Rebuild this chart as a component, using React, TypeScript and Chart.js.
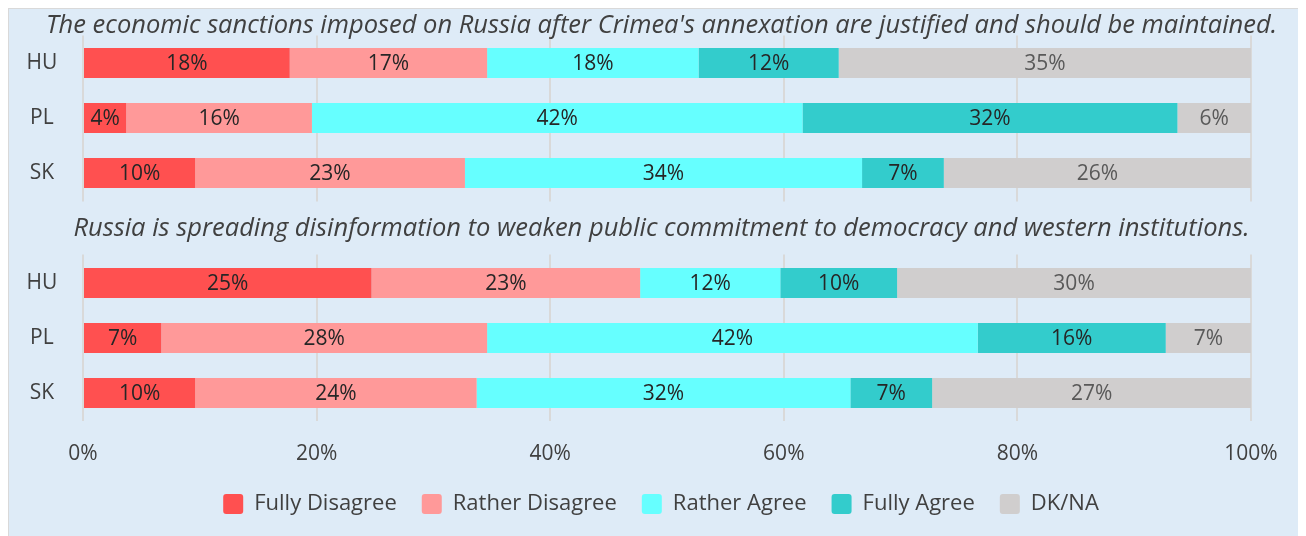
import React, { useEffect, useRef } from "react";
import { Chart, registerables } from "chart.js";

Chart.register(...registerables);

const countries = ["HU", "PL", "SK"];
const seriesNames = ["Fully Disagree", "Rather Disagree", "Rather Agree", "Fully Agree", "DK/NA"];
const seriesColors = ["#FF5050", "#FF9999", "#66FFFF", "#33CCCC", "#D0CECE"];
const valueLabelColors = ["#262626", "#262626", "#262626", "#262626", "#595959"];
const questionTitles = [
  "The economic sanctions imposed on Russia after Crimea's annexation are justified and should be maintained.",
  "Russia is spreading disinformation to weaken public commitment to democracy and western institutions.",
];

// Question 1: sanctions (HU, PL, SK)
const q1FullyDisagree = [17.7, 3.7, 9.6];
const q1RatherDisagree = [16.9, 15.9, 23.1];
const q1RatherAgree = [18.1, 42.0, 34.0];
const q1FullyAgree = [12.0, 32.1, 7.0];
const q1DkNa = [35.3, 6.3, 26.3];

// Question 2: disinformation (HU, PL, SK)
const q2FullyDisagree = [24.7, 6.7, 9.6];
const q2RatherDisagree = [23.0, 27.9, 24.1];
const q2RatherAgree = [12.0, 42.0, 32.0];
const q2FullyAgree = [10.0, 16.1, 7.0];
const q2DkNa = [30.3, 7.3, 27.3];

const xTickStep = 20;
const xMax = 100;

const BG = "#DEEBF7";
const FONT = "'Open Sans', sans-serif";

export default function App() {
  const canvasRef = useRef<HTMLCanvasElement | null>(null);

  useEffect(() => {
    document.body.style.overflow = "hidden";
    const q1 = [q1FullyDisagree, q1RatherDisagree, q1RatherAgree, q1FullyAgree, q1DkNa];
    const q2 = [q2FullyDisagree, q2RatherDisagree, q2RatherAgree, q2FullyAgree, q2DkNa];
    const categories = [...countries, "", ...countries];
    const datasets = seriesNames.map((name, i) => ({
      label: name,
      data: [...q1[i], null, ...q2[i]],
      backgroundColor: seriesColors[i],
      borderWidth: 0,
      categoryPercentage: 1,
      barPercentage: 0.545,
    }));

    const gapPlugin = {
      id: "gapAndTitles",
      beforeDatasetsDraw(chart: any) {
        const { ctx, chartArea } = chart;
        const y = chart.scales.y;
        const half = Math.abs(y.getPixelForValue(1) - y.getPixelForValue(0)) / 2;
        const gy = y.getPixelForValue(3);
        ctx.save();
        ctx.fillStyle = BG;
        ctx.fillRect(chartArea.left - 3, gy - half + 1, chartArea.right - chartArea.left + 6, half * 2 - 2);
        ctx.restore();
      },
      afterDatasetsDraw(chart: any) {
        const { ctx } = chart;
        ctx.save();
        ctx.font = `21px ${FONT}`;
        ctx.textAlign = "center";
        ctx.textBaseline = "middle";
        chart.data.datasets.forEach((ds: any, di: number) => {
          const meta = chart.getDatasetMeta(di);
          meta.data.forEach((el: any, idx: number) => {
            const v = ds.data[idx];
            if (v === null || v === undefined) return;
            const cx = (el.x + el.base) / 2;
            ctx.fillStyle = valueLabelColors[di];
            ctx.fillText(Math.round(v) + "%", cx, el.y + 1);
          });
        });
        ctx.restore();
      },
      afterDraw(chart: any) {
        const { ctx, chartArea } = chart;
        const y = chart.scales.y;
        const cx = chart.width / 2 + 4;
        ctx.save();
        ctx.font = `italic 25.5px ${FONT}`;
        ctx.fillStyle = "#404040";
        ctx.textAlign = "center";
        ctx.textBaseline = "middle";
        ctx.fillText(questionTitles[0], cx, chartArea.top - 10);
        ctx.fillText(questionTitles[1], cx, y.getPixelForValue(3) + 1);
        ctx.restore();
      },
    };

    const chart = new Chart(canvasRef.current!, {
      type: "bar",
      data: { labels: categories, datasets },
      options: {
        indexAxis: "y",
        animation: false,
        responsive: false,
        maintainAspectRatio: false,
        layout: { padding: { top: 26.5, right: 55, bottom: 11, left: 62 } },
        font: { family: FONT },
        scales: {
          x: {
            stacked: true,
            min: 0,
            max: xMax,
            afterFit(scale: any) {
              scale.height = 47.5;
            },
            ticks: {
              stepSize: xTickStep,
              padding: 21,
              color: "#404040",
              font: { family: FONT, size: 21 },
              callback: (v: any) => v + "%",
            },
            grid: { color: "#D9D9D9", lineWidth: 2, drawTicks: false },
            border: { display: false },
          },
          y: {
            stacked: true,
            afterFit(scale: any) {
              scale.width = 12;
              scale.paddingTop = 0;
              scale.paddingBottom = 0;
            },
            ticks: {
              mirror: true,
              padding: -56.5,
              crossAlign: "center",
              color: "#404040",
              font: { family: FONT, size: 21 },
            },
            grid: { display: false, drawTicks: false },
            border: { display: false },
          },
        },
        plugins: {
          legend: {
            position: "bottom",
            labels: {
              boxWidth: 20,
              boxHeight: 20,
              padding: 25,
              useBorderRadius: true,
              borderRadius: 3,
              color: "#404040",
              font: { family: FONT, size: 22 },
            },
          },
          tooltip: { enabled: false },
        },
      } as any,
      plugins: [gapPlugin],
    });
    return () => chart.destroy();
  }, []);

  return (
    <div
      style={{
        margin: "-1px 0 0 -1px",
        width: 1299,
        height: 529,
        borderTop: "2px solid #D9D9D9",
        borderLeft: "2px solid #D9D9D9",
        background: BG,
        boxSizing: "border-box",
        overflow: "hidden",
      }}
    >
      <canvas ref={canvasRef} width={1297} height={527} style={{ display: "block" }} />
    </div>
  );
}
